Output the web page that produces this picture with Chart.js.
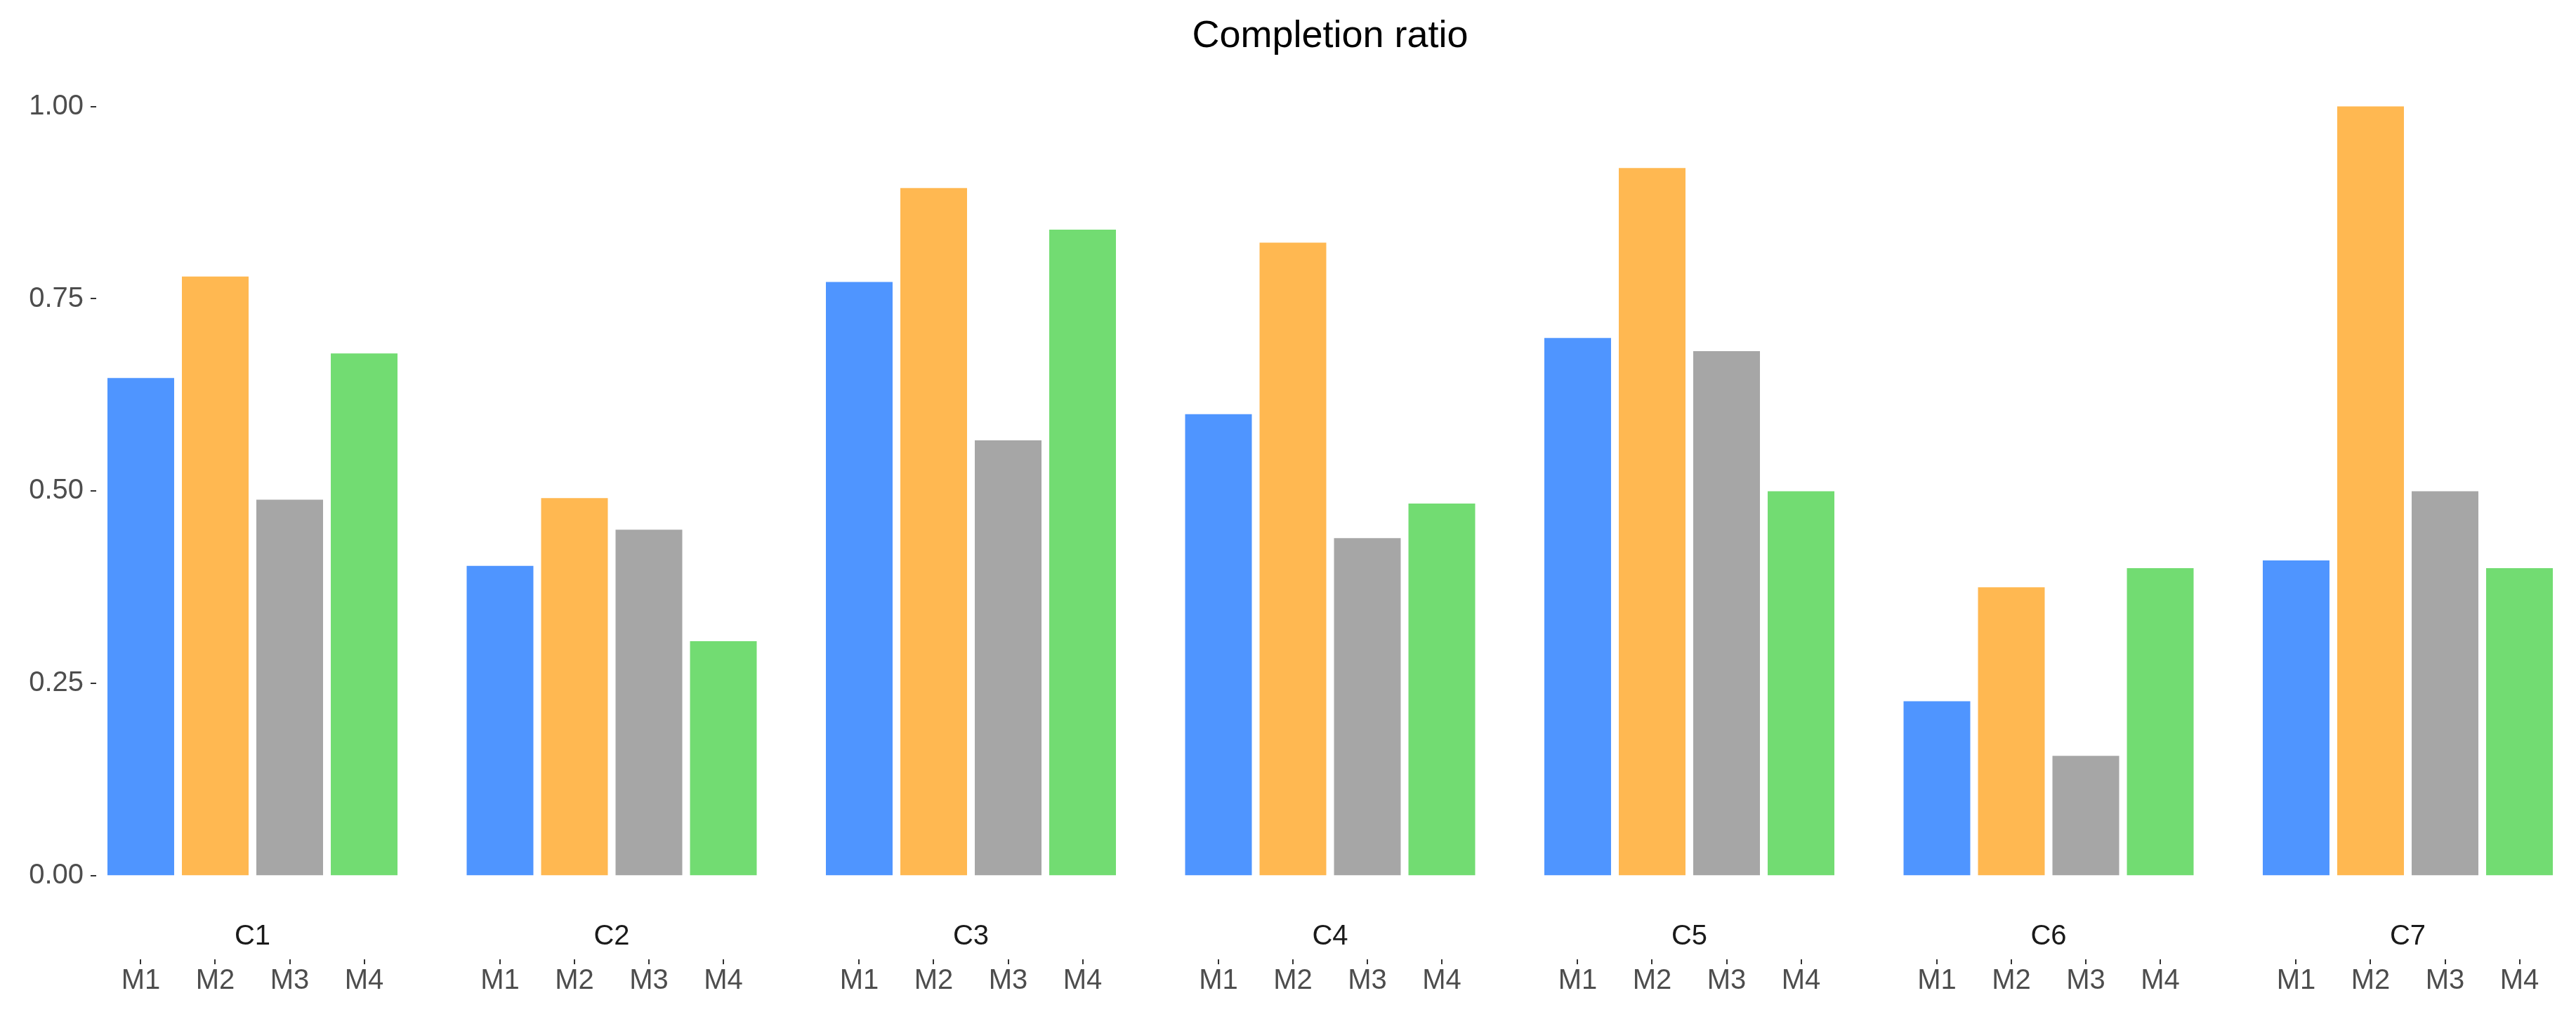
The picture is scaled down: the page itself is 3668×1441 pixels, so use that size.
<!DOCTYPE html>
<html>
<head>
<meta charset="utf-8">
<script src="https://cdn.jsdelivr.net/npm/chart.js@4"></script>
<style>
  html, body { margin: 0; padding: 0; background: #ffffff; }
  canvas { display: block; }
</style>
</head>
<body>
<canvas id="c" width="3668" height="1441" style="width:3668px;height:1441px"></canvas>
<script>
// ---- data ----
const categories = ['C1', 'C2', 'C3', 'C4', 'C5', 'C6', 'C7'];
const seriesNames = ['M1', 'M2', 'M3', 'M4'];
const m1 = [0.647, 0.403, 0.772, 0.600, 0.699, 0.227, 0.410];
const m2 = [0.779, 0.491, 0.894, 0.823, 0.920, 0.375, 1.000];
const m3 = [0.489, 0.450, 0.566, 0.439, 0.682, 0.156, 0.500];
const m4 = [0.679, 0.305, 0.840, 0.484, 0.500, 0.400, 0.400];
const yTickValues = [0, 0.25, 0.5, 0.75, 1.0];
const titleText = 'Completion ratio';

// ---- style ----
const colors = ['#4F95FF', '#FFB851', '#A6A6A6', '#72DC72'];
const FONT = "'Liberation Sans', Arial, sans-serif";
const CAT_PCT = 0.829;
const BAR_PCT = 0.896;
const X_MIN = -0.435, X_MAX = 6.435;
const Y_MIN = -0.05, Y_MAX = 1.05;

const seriesValues = [m1, m2, m3, m4];

const datasets = seriesNames.map((name, i) => ({
  label: name,
  data: seriesValues[i],
  backgroundColor: colors[i],
  borderWidth: 0,
  categoryPercentage: CAT_PCT,
  barPercentage: BAR_PCT
}));

function fixRange(axis, lo, hi) { axis.min = lo; axis.max = hi; }

new Chart(document.getElementById('c'), {
  type: 'bar',
  data: {
    labels: categories.map((_, i) => i),
    datasets: datasets
  },
  options: {
    responsive: false,
    animation: false,
    devicePixelRatio: 1,
    layout: { padding: { left: 0, right: 17, top: 0, bottom: 0 } },
    plugins: {
      legend: { display: false },
      tooltip: { enabled: false },
      title: {
        display: true,
        text: titleText,
        fullSize: false,
        color: '#000000',
        font: { family: FONT, size: 54, weight: 'normal', lineHeight: 1.2 },
        padding: { top: 20, bottom: 12 }
      }
    },
    scales: {
      x: {
        type: 'linear',
        position: 'bottom',
        weight: 0,
        bounds: 'data',
        offset: false,
        min: X_MIN,
        max: X_MAX,
        grid: { display: false, drawTicks: false, drawOnChartArea: false, offset: false },
        border: { display: false },
        afterBuildTicks: (axis) => {
          axis.ticks = categories.map((_, i) => ({ value: i }));
          fixRange(axis, X_MIN, X_MAX);
        },
        afterFit: (axis) => { axis.height = 64; },
        ticks: {
          autoSkip: false,
          maxRotation: 0,
          minRotation: 0,
          padding: 8,
          color: '#1A1A1A',
          font: { family: FONT, size: 40, lineHeight: 1.2 },
          callback: (v, i) => categories[i]
        }
      },
      xm: {
        type: 'linear',
        position: 'bottom',
        weight: 1,
        bounds: 'data',
        offset: false,
        min: X_MIN,
        max: X_MAX,
        grid: {
          display: true,
          offset: false,
          drawOnChartArea: false,
          drawTicks: true,
          tickLength: 7,
          color: '#333333',
          lineWidth: 2
        },
        border: { display: false },
        afterBuildTicks: (axis) => {
          const ticks = [];
          const chunk = CAT_PCT / seriesNames.length;
          categories.forEach((_, g) => {
            seriesNames.forEach((_, s) => {
              ticks.push({ value: g + (s - (seriesNames.length - 1) / 2) * chunk });
            });
          });
          axis.ticks = ticks;
          fixRange(axis, X_MIN, X_MAX);
        },
        afterFit: (axis) => { axis.height = 75; },
        ticks: {
          autoSkip: false,
          maxRotation: 0,
          minRotation: 0,
          padding: 0,
          color: '#4D4D4D',
          font: { family: FONT, size: 40, lineHeight: 1.2 },
          callback: (v, i) => seriesNames[i % seriesNames.length]
        }
      },
      y: {
        type: 'linear',
        position: 'left',
        bounds: 'data',
        beginAtZero: false,
        min: Y_MIN,
        max: Y_MAX,
        grid: {
          display: true,
          drawOnChartArea: false,
          drawTicks: true,
          tickLength: 8,
          color: '#333333',
          lineWidth: 2
        },
        border: { display: false },
        afterBuildTicks: (axis) => {
          axis.ticks = yTickValues.map(v => ({ value: v }));
          fixRange(axis, Y_MIN, Y_MAX);
        },
        afterFit: (axis) => { axis.width = 137; },
        ticks: {
          padding: 10,
          color: '#4D4D4D',
          font: { family: FONT, size: 40, lineHeight: 1.2 },
          callback: (v) => Number(v).toFixed(2)
        }
      }
    }
  }
});
</script>
</body>
</html>
